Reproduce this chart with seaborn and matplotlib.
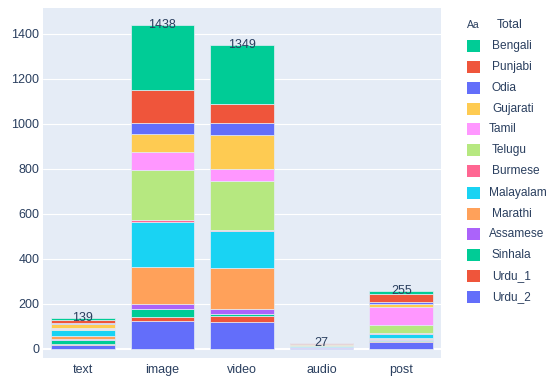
import numpy as np
import pandas as pd
import matplotlib
matplotlib.use("Agg")
import matplotlib.pyplot as plt
from matplotlib.patches import Rectangle
import seaborn as sns

categories = ["text", "image", "video", "audio", "post"]

# counts per language for each content type (bottom of the stack first)
urdu_2 = [15, 125, 118, 2, 31]
urdu_1 = [5, 17, 28, 1, 5]
sinhala = [19, 36, 8, 2, 4]
assamese = [3, 21, 25, 1, 3]
marathi = [13, 163, 178, 2, 6]
malayalam = [27, 203, 165, 3, 16]
burmese = [1, 7, 5, 1, 3]
telugu = [4, 224, 219, 3, 36]
tamil = [4, 78, 54, 3, 83]
gujarati = [19, 80, 152, 2, 13]
odia = [6, 51, 50, 2, 9]
punjabi = [10, 146, 85, 2, 36]
bengali = [13, 287, 262, 3, 10]

totals = [139, 1438, 1349, 27, 255]

legend_order = ["Bengali", "Punjabi", "Odia", "Gujarati", "Tamil", "Telugu",
                "Burmese", "Malayalam", "Marathi", "Assamese", "Sinhala",
                "Urdu_1", "Urdu_2"]

series = {
    "Urdu_2": urdu_2, "Urdu_1": urdu_1, "Sinhala": sinhala,
    "Assamese": assamese, "Marathi": marathi, "Malayalam": malayalam,
    "Burmese": burmese, "Telugu": telugu, "Tamil": tamil,
    "Gujarati": gujarati, "Odia": odia, "Punjabi": punjabi,
    "Bengali": bengali,
}

colors = {
    "Bengali": "#00CC96", "Punjabi": "#EF553B", "Odia": "#636EFA",
    "Gujarati": "#FECB52", "Tamil": "#FF97FF", "Telugu": "#B6E880",
    "Burmese": "#FF6692", "Malayalam": "#19D3F3", "Marathi": "#FFA15A",
    "Assamese": "#AB63FA", "Sinhala": "#00CC96", "Urdu_1": "#EF553B",
    "Urdu_2": "#636EFA",
}

sns.set_theme(style="white")
plt.rcParams["font.family"] = ["Liberation Sans", "DejaVu Sans"]

TXT = "#2a3f5f"
BG = "#E5ECF6"
W, H = 546, 380

fig = plt.figure(figsize=(W / 100, H / 100), dpi=100)
fig.patch.set_facecolor("white")
ax = fig.add_axes([43 / W, (380 - 358) / H, (441 - 43) / W, (358 - 8.3) / H])
ax.set_facecolor(BG)

ax.set_ylim(-41, 1514)
ax.set_yticks(range(0, 1401, 200))
for yv in range(200, 1401, 200):
    ax.axhline(yv, color="white", lw=0.8, zorder=0)
ax.axhline(0, color="white", lw=1.5, zorder=0)

bottom = np.zeros(len(categories))
for name in reversed(legend_order):
    vals = np.array(series[name], dtype=float)
    sns.barplot(x=categories, y=vals, bottom=bottom, color=colors[name],
                width=0.8, errorbar=None, saturation=1, ax=ax,
                edgecolor=BG, linewidth=0.5, zorder=2)
    bottom += vals

for i, t in enumerate(totals):
    ax.text(i, t, str(t), ha="center", va="center", fontsize=9,
            color=TXT, zorder=5)

ax.set_xlim(-0.5, 4.5)
ax.set_xlabel("")
ax.set_ylabel("")
for s in ax.spines.values():
    s.set_visible(False)
ax.tick_params(axis="both", length=0, colors=TXT, labelsize=9)
ax.tick_params(axis="y", pad=2.5)
ax.tick_params(axis="x", pad=4.5)

# legend drawn in figure pixel coordinates
fig.text(467 / W, 1 - 25 / H, "Aa", fontsize=7.5, color=TXT,
         ha="left", va="center")
fig.text(497 / W, 1 - 25 / H, "Total", fontsize=8.8, color=TXT,
         ha="left", va="center")
ys = [46, 67, 88, 109, 129, 150, 171, 193, 214, 234, 255, 276, 297]
for name, yc in zip(legend_order, ys):
    fig.add_artist(Rectangle((467 / W, 1 - (yc + 6) / H), 13 / W, 12 / H,
                             transform=fig.transFigure,
                             facecolor=colors[name], edgecolor="none"))
    xt = 489 if name in ("Tamil", "Malayalam", "Assamese") else 492
    fig.text(xt / W, 1 - yc / H, name, fontsize=8.6, color=TXT,
             ha="left", va="center")

fig.savefig("out.png", dpi=100)
